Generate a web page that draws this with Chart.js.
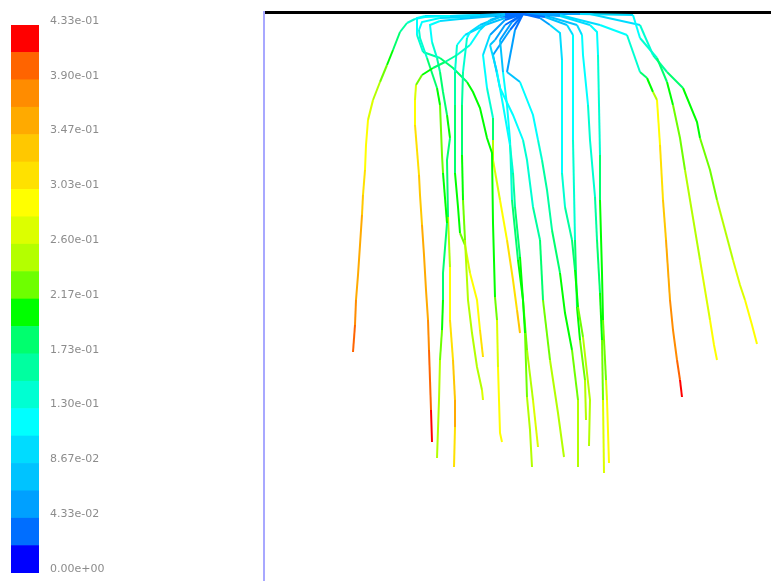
<!DOCTYPE html>
<html>
<head>
<meta charset="utf-8">
<script src="https://cdn.jsdelivr.net/npm/chart.js@4.4.0/dist/chart.umd.min.js"></script>
<style>
    body { margin: 0; background: #fff; }
    #wrap { position: relative; width: 771px; height: 581px; overflow: hidden; }
    canvas { position: absolute; top: 0; left: 0; }
</style>
</head>
<body>
<div id="wrap">
    <canvas id="tracks" width="771" height="581"></canvas>
    <canvas id="legend" width="120" height="581"></canvas>
</div>
<script>
// colour map, bottom (low) to top (high)
const bandStep = 0.02167;
const bandColors = [
    '#0000ff', '#006eff', '#00a0ff', '#00c3ff', '#00dcff',
    '#00ffff', '#00ffd2', '#00ffa0', '#00ff6e', '#00ff00',
    '#6eff00', '#b4ff00', '#dcff00', '#ffff00', '#ffe100',
    '#ffc800', '#ffaa00', '#ff8c00', '#ff6400', '#ff0000'
];
const tickValues = [0, 0.04334, 0.08668, 0.13002, 0.17336, 0.2167, 0.26004, 0.30338, 0.34672, 0.39006, 0.4334];
const tickLabels = ['0.00e+00', '4.33e-02', '8.67e-02', '1.30e-01', '1.73e-01', '2.17e-01',
                    '2.60e-01', '3.03e-01', '3.47e-01', '3.90e-01', '4.33e-01'];

// particle tracks: [x from left wall, depth below top wall, value]
const trackFarLeft = [[259,2,.02],[241,2,.06],[216,3,.09],[186,4,.11],[161,5,.12],[151,7,.13],[143,11,.15],[136,20,.17],[129,38,.19],[123,53,.21],[116,70,.23],[109,88,.26],[104,108,.28],[102,133,.29],[101,158,.30],[99,183,.32],[98,203,.34],[96,233,.355],[94,263,.36],[92,288,.37],[91,313,.385],[89,340,.40]];
const trackLeftRed = [[259,2,.02],[241,3,.06],[226,8,.09],[216,18,.11],[206,33,.13],[193,43,.16],[181,50,.18],[169,56,.20],[158,63,.22],[152,73,.25],[151,88,.28],[151,113,.30],[153,138,.31],[155,163,.32],[156,183,.34],[158,213,.35],[160,243,.355],[162,278,.36],[164,308,.375],[165,338,.39],[166,368,.40],[167,398,.42],[168,430,.43]];
const track03 = [[259,2,.02],[236,3,.06],[206,5,.09],[176,6,.11],[158,10,.12],[155,18,.13],[156,26,.14],[163,46,.16],[173,76,.19],[176,93,.21],[178,143,.24],[179,161,.22],[183,211,.20],[179,261,.19],[179,288,.20],[178,318,.21],[176,348,.23],[175,388,.25],[173,446,.26]];
const track04 = [[259,2,.02],[231,4,.06],[196,7,.09],[176,9,.11],[166,13,.12],[168,30,.13],[173,46,.15],[176,60,.17],[179,80,.18],[183,103,.20],[186,126,.21],[183,148,.17],[184,205,.22],[186,255,.29],[186,308,.30],[189,348,.32],[191,388,.36],[191,415,.35],[190,455,.30]];
const track05 = [[259,2,.02],[236,5,.06],[216,13,.09],[206,20,.11],[203,26,.13],[199,60,.15],[198,93,.17],[198,143,.19],[199,188,.21],[201,228,.23],[204,288,.25],[208,321,.26],[213,355,.25],[218,378,.26],[219,388,.27]];
const track06 = [[259,2,.02],[241,6,.06],[221,13,.09],[201,23,.12],[193,33,.14],[191,60,.16],[191,93,.18],[191,161,.20],[194,195,.21],[196,221,.22],[201,233,.25],[206,261,.28],[213,288,.30],[216,318,.30],[219,345,.31]];
const track07 = [[259,2,.02],[226,3,.07],[186,4,.10],[161,4,.11],[153,6,.12],[153,23,.13],[159,40,.15],[176,46,.17],[189,56,.19],[203,70,.20],[209,80,.21],[216,96,.20],[223,126,.20],[228,141,.21],[229,211,.20],[231,285,.22],[233,308,.25],[234,355,.28],[236,421,.29],[238,430,.30]];
const track08 = [[259,2,.02],[241,8,.05],[226,23,.08],[219,43,.10],[223,76,.13],[229,106,.16],[229,128,.22],[229,148,.27],[236,188,.29],[243,228,.30],[249,268,.31],[253,298,.33],[256,321,.34]];
const track09 = [[259,2,.02],[241,13,.04],[231,28,.07],[226,33,.09],[233,60,.11],[239,93,.12],[246,133,.14],[249,161,.15],[251,195,.17],[256,245,.19],[259,288,.21],[261,321,.22],[263,385,.23],[266,418,.25],[268,455,.26]];
const track10 = [[259,2,.02],[248,10,.04],[236,28,.07],[239,60,.10],[243,93,.12],[246,128,.13],[248,188,.16],[254,248,.19],[259,288,.21],[263,338,.23],[269,388,.26],[274,435,.29]];
const track11 = [[259,2,.02],[246,18,.04],[229,43,.07],[236,76,.10],[249,103,.12],[259,128,.13],[263,148,.14],[269,195,.16],[276,228,.18],[279,288,.21],[286,348,.23],[294,401,.25],[300,445,.26]];
const track12 = [[259,2,.02],[251,18,.04],[243,60,.07],[256,70,.10],[269,103,.12],[274,128,.14],[278,148,.15],[283,178,.16],[288,218,.18],[296,261,.20],[301,301,.21],[308,338,.22],[314,388,.24],[314,455,.26]];
const track13 = [[259,2,.02],[276,6,.05],[286,13,.08],[296,21,.10],[298,48,.11],[298,128,.12],[298,161,.13],[301,195,.15],[308,228,.17],[311,258,.19],[314,295,.21],[319,325,.23],[326,388,.25],[325,434,.26]];
const track14 = [[259,2,.02],[281,5,.06],[303,13,.09],[309,23,.11],[309,128,.12],[311,228,.16],[313,295,.20],[316,328,.22],[321,368,.24],[322,408,.25]];
const track15 = [[259,2,.02],[286,5,.07],[313,13,.10],[318,23,.11],[319,43,.12],[324,93,.13],[326,128,.14],[331,185,.16],[333,228,.18],[336,281,.20],[338,328,.22],[339,388,.25],[340,461,.28]];
const track16 = [[259,2,.02],[296,4,.07],[326,13,.11],[333,20,.12],[334,43,.13],[336,143,.15],[336,188,.20],[338,261,.21],[339,308,.22],[342,368,.25],[343,388,.28],[345,451,.29]];
const trackRightRed = [[259,2,.02],[296,3,.08],[336,13,.11],[363,23,.13],[376,60,.17],[383,66,.20],[389,80,.23],[393,88,.27],[396,133,.30],[399,188,.33],[402,228,.35],[404,258,.36],[406,288,.37],[409,318,.38],[413,348,.40],[416,368,.42],[418,385,.43]];
const trackRight = [[259,2,.02],[316,2,.08],[369,3,.12],[376,26,.13],[393,46,.16],[403,70,.20],[409,93,.21],[416,126,.23],[421,158,.24],[426,188,.25],[431,218,.26],[436,248,.26],[441,278,.27],[446,308,.28],[450,333,.29],[453,348,.30]];
const trackFarRight = [[259,2,.02],[326,2,.08],[376,13,.12],[389,43,.15],[403,60,.17],[419,76,.19],[433,110,.21],[436,126,.22],[446,158,.23],[453,188,.24],[461,218,.25],[469,248,.26],[476,273,.27],[481,288,.28],[488,313,.29],[493,332,.30]];

const tracks = [trackFarLeft, trackLeftRed, track03, track04, track05, track06, track07, track08,
                track09, track10, track11, track12, track13, track14, track15, track16,
                trackRightRed, trackRight, trackFarRight];

Chart.defaults.font.family = "'DejaVu Sans', sans-serif";
Chart.defaults.animation = false;

function bandColor(v) {
    let i = Math.floor(v / bandStep);
    i = Math.max(0, Math.min(bandColors.length - 1, i));
    return bandColors[i];
}

new Chart(document.getElementById('tracks'), {
    type: 'scatter',
    data: {
        datasets: tracks.map(t => ({
            data: t.map(p => ({ x: p[0], y: p[1] })),
            showLine: true,
            pointRadius: 0,
            borderWidth: 2,
            borderColor: bandColor(t[0][2]),
            segment: {
                borderColor: ctx => bandColor((t[ctx.p0DataIndex][2] + t[ctx.p1DataIndex][2]) / 2)
            }
        }))
    },
    options: {
        responsive: false,
        layout: { padding: { left: 264, top: 12, right: 0, bottom: 0 } },
        plugins: { legend: { display: false }, tooltip: { enabled: false } },
        scales: {
            x: {
                type: 'linear', position: 'top', min: 0, max: 507,
                grid: { display: false, drawTicks: false },
                ticks: { display: false },
                border: { color: '#000', width: 3 },
                afterFit: s => { s.height = 0; }
            },
            y: {
                type: 'linear', reverse: true, min: 0, max: 569,
                grid: { display: false, drawTicks: false },
                ticks: { display: false },
                border: { color: '#a8a8ff', width: 2 },
                afterFit: s => { s.width = 0; }
            }
        }
    }
});

new Chart(document.getElementById('legend'), {
    type: 'bar',
    data: {
        labels: [''],
        datasets: bandColors.map(c => ({
            data: [bandStep],
            backgroundColor: c,
            borderWidth: 0,
            barPercentage: 1,
            categoryPercentage: 1
        }))
    },
    options: {
        responsive: false,
        layout: { padding: { left: 11, top: 25, right: 0, bottom: 8 } },
        plugins: { legend: { display: false }, tooltip: { enabled: false } },
        scales: {
            x: { stacked: true, display: false },
            y: {
                stacked: true, position: 'right', min: 0, max: 0.4334,
                grid: { display: false, drawTicks: false },
                border: { display: false },
                afterBuildTicks: s => { s.ticks = tickValues.map(v => ({ value: v })); },
                afterFit: s => {
                    s.width = 81;
                    s.paddingTop = 0;
                    s.paddingBottom = 0;
                },
                ticks: {
                    padding: 11,
                    labelOffset: -4,
                    autoSkip: false,
                    color: '#8c8c8c',
                    font: { size: 11 },
                    callback: (value, index) => tickLabels[index]
                }
            }
        }
    }
});
</script>
</body>
</html>
